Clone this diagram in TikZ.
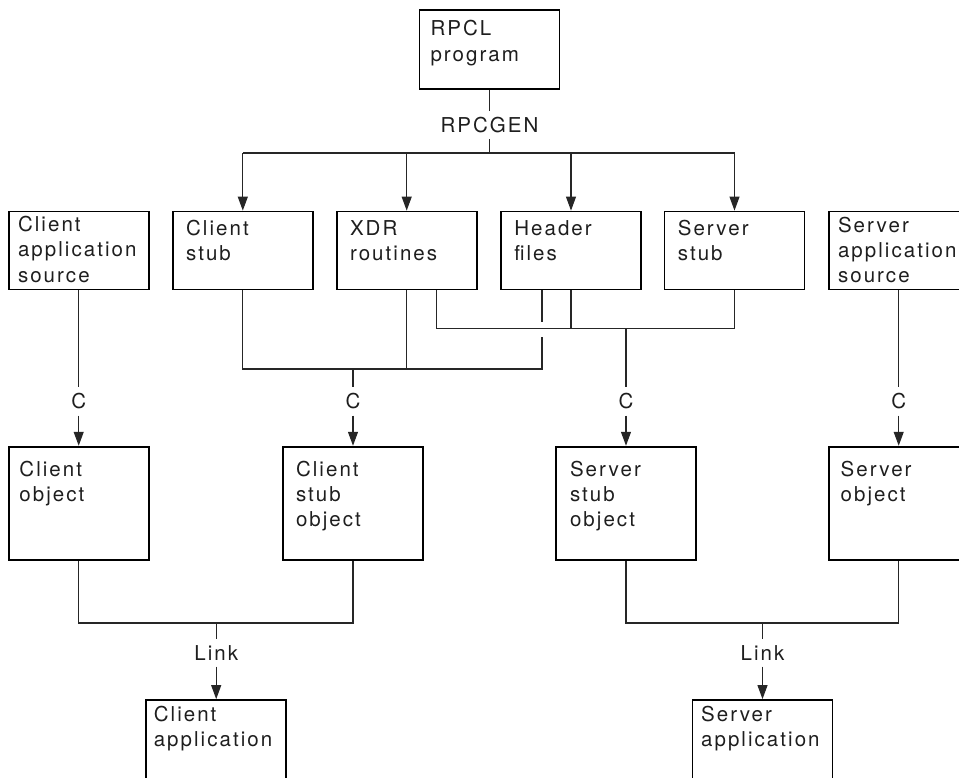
\documentclass[tikz,border=0pt]{standalone}
\usepackage{fontspec}
\setmainfont{TeX Gyre Heros}[LetterSpace=10]
\usetikzlibrary{arrows.meta}
\definecolor{ink}{HTML}{1E1E1E}
\definecolor{wire}{HTML}{262626}
\newcommand{\mlines}[1]{\begin{tabular}[t]{@{}l@{}}#1\end{tabular}}
\begin{document}
\begin{tikzpicture}[x=1pt,y=-1pt,
  font=\fontsize{20.5}{25.2}\selectfont,
  boxr/.style={draw=black, line width=1.8pt, minimum width=140pt, inner sep=0pt},
  txt/.style={anchor=base west, inner sep=0pt, text=ink},
  lbl/.style={inner sep=6pt, text=ink},
  conn/.style={draw=wire, line width=1.1pt},
  arr/.style={conn, -{Triangle[length=14pt,width=10pt]}}]
\useasboundingbox (0,0) rectangle (959,777);
\clip (0,0) rectangle (959,777);

% ---- boxes ----
\node[boxr, minimum height=79pt] (rpcl) at (489.5,49.5) {};
\node[boxr, minimum height=78pt] (cas) at (78.7,250.5) {};
\node[boxr, minimum height=78pt] (cstub) at (242.8,250.5) {};
\node[boxr, minimum height=78pt] (xdr) at (406.7,250.5) {};
\node[boxr, minimum height=78pt] (hdr) at (571,250.5) {};
\node[boxr, minimum height=78pt] (sstub) at (734.5,250.5) {};
\node[boxr, minimum height=78pt] (sas) at (898.7,250.5) {};
\node[boxr, minimum height=113.3pt] (cobj) at (78.7,503.3) {};
\node[boxr, minimum height=113.3pt] (csobj) at (353,503.3) {};
\node[boxr, minimum height=113.3pt] (ssobj) at (626,503.3) {};
\node[boxr, minimum height=113.3pt] (sobj) at (898.7,503.3) {};
\node[boxr, minimum height=100pt] (capp) at (216.2,750) {};
\node[boxr, minimum height=100pt] (sapp) at (762.5,750) {};

% ---- box texts ----
\node[txt] (rpclT) at ([shift={(11.7,26.7)}]rpcl.north west) {\mlines{RPCL\\program}};
\node[txt] (casT) at ([shift={(10,21)}]cas.north west) {\mlines{Client\\application\\source}};
\node[txt] (cstubT) at ([shift={(14,24.7)}]cstub.north west) {\mlines{Client\\stub}};
\node[txt] (xdrT) at ([shift={(14,24.7)}]xdr.north west) {\mlines{XDR\\routines}};
\node[txt] (hdrT) at ([shift={(14,24.7)}]hdr.north west) {\mlines{Header\\files}};
\node[txt] (sstubT) at ([shift={(14,24.7)}]sstub.north west) {\mlines{Server\\stub}};
\node[txt] (sasT) at ([shift={(10,21.5)}]sas.north west) {\mlines{Server\\application\\source}};
\node[txt] (cobjT) at ([shift={(11.4,30.7)}]cobj.north west) {\mlines{Client\\object}};
\node[txt] (csobjT) at ([shift={(13.7,30.7)}]csobj.north west) {\mlines{Client\\stub\\object}};
\node[txt] (ssobjT) at ([shift={(14.7,30.7)}]ssobj.north west) {\mlines{Server\\stub\\object}};
\node[txt] (sobjT) at ([shift={(12.7,30.7)}]sobj.north west) {\mlines{Server\\object}};
\node[txt] (cappT) at ([shift={(8.3,22)}]capp.north west) {\mlines{Client\\application}};
\node[txt] (sappT) at ([shift={(9.3,22)}]sapp.north west) {\mlines{Server\\application}};

% ---- connector labels ----
\node[lbl] (rg) at (489.5,125) {RPCGEN};
\node[lbl] (c1) at (78.7,401.5) {C};
\node[lbl] (c2) at (353,401.5) {C};
\node[lbl] (c3) at (626,401.5) {C};
\node[lbl] (c4) at (898.7,401.5) {C};
\node[lbl] (lk1) at (216.2,653) {Link};
\node[lbl] (lk2) at (762.5,653) {Link};

% ---- coordinates ----
\coordinate (gtop) at (489.5,153);
\coordinate (gl) at (242.8,153);
\coordinate (gr) at (734.5,153);
\coordinate (bl) at (242.8,369);
\coordinate (br) at (542,369);
\coordinate (bm) at (353,369);
\coordinate (hopa) at (542,321.5);
\coordinate (hopb) at (542,336.5);
\coordinate (ml) at (436.5,328.3);
\coordinate (mr) at (734.5,328.3);
\coordinate (mm) at (626,328.3);
\coordinate (ll) at (78.7,623);
\coordinate (lr) at (353,623);
\coordinate (lm) at (216.2,623);
\coordinate (rl) at (626,623);
\coordinate (rr) at (898.7,623);
\coordinate (rm) at (762.5,623);

% ---- RPCGEN fan-out ----
\draw[conn] (rpcl) -- (rg);
\draw[conn] (rg) -- (gtop);
\draw[conn] (gl) -- (gr);
\draw[arr] (gl) -- (cstub);
\draw[arr] (xdr |- gl) -- (xdr);
\draw[arr] (hdr |- gl) -- (hdr);
\draw[arr] (gr) -- (sstub);

% ---- compile: client application source ----
\draw[conn] (cas) -- (c1);
\draw[arr] (c1) -- (cobj);

% ---- compile: client stub object ----
\draw[conn] (cstub.south) -- (bl) -- (br) -- (hopb);
\draw[conn] (br |- hdr.south) -- (hopa);
\draw[conn] (xdr.south) -- (xdr.south |- bl);
\draw[conn] (bm) -- (c2);
\draw[arr] (c2) -- (csobj);

% ---- compile: server stub object ----
\draw[conn] (ml |- xdr.south) -- (ml) -- (mr) -- (sstub.south);
\draw[conn] (hdr.south) -- (hdr.south |- ml);
\draw[conn] (mm) -- (c3);
\draw[arr] (c3) -- (ssobj);

% ---- compile: server application source ----
\draw[conn] (sas) -- (c4);
\draw[arr] (c4) -- (sobj);

% ---- link ----
\draw[conn] (cobj.south) -- (ll) -- (lr) -- (csobj.south);
\draw[conn] (lm) -- (lk1);
\draw[arr] (lk1) -- (capp);
\draw[conn] (ssobj.south) -- (rl) -- (rr) -- (sobj.south);
\draw[conn] (rm) -- (lk2);
\draw[arr] (lk2) -- (sapp);
\end{tikzpicture}
\end{document}
